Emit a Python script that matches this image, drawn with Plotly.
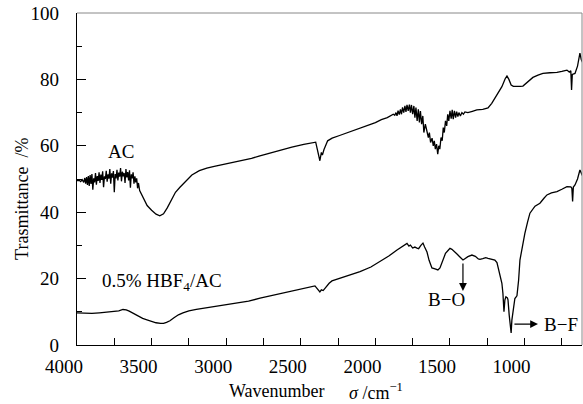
import plotly.graph_objects as go

# ---- data: AC spectrum (wavenumber, transmittance %) ----
ac_w = [4000, 3985, 3975, 3965, 3955, 3948, 3942, 3936, 3930, 3924, 3918, 3912, 3906, 3900, 3894,
        3888, 3882, 3876, 3870, 3864, 3858, 3852, 3846, 3840, 3834, 3828, 3822, 3816, 3810, 3804,
        3798, 3792, 3786, 3780, 3774, 3768, 3762, 3756, 3750, 3744, 3738, 3732, 3726, 3720, 3714,
        3708, 3702, 3696, 3690, 3684, 3678, 3672, 3666, 3660, 3654, 3648, 3642, 3636, 3630, 3624,
        3618, 3612, 3606, 3600, 3594, 3588, 3580, 3570, 3555, 3530, 3500, 3470, 3445, 3420, 3395,
        3370, 3340, 3310, 3270, 3230, 3180, 3130, 3080, 3030, 2980, 2930, 2880, 2830, 2780, 2700,
        2640, 2560, 2480, 2400, 2372, 2362, 2355, 2345, 2320, 2290, 2240, 2190, 2120, 2060, 2000,
        1960, 1920, 1880, 1870, 1862, 1855, 1848, 1840, 1832, 1825, 1818, 1810, 1802, 1795, 1788,
        1780, 1772, 1765, 1758, 1750, 1742, 1735, 1728, 1720, 1712, 1705, 1698, 1690, 1682, 1675,
        1665, 1655, 1645, 1638, 1630, 1620, 1612, 1605, 1598, 1590, 1582, 1575, 1568, 1560, 1552,
        1545, 1538, 1530, 1522, 1515, 1508, 1500, 1492, 1485, 1478, 1470, 1462, 1455, 1447, 1440,
        1430, 1420, 1410, 1400, 1380, 1350, 1320, 1280, 1245, 1220, 1199, 1175, 1152, 1130, 1118,
        1105, 1090, 1075, 1051, 1030, 1011, 980, 944, 910, 877, 830, 783, 750, 716, 700,
        690, 685, 680, 662, 645, 629, 620, 609]
ac_t = [49.5, 49.6, 49.2, 49.8, 49.0, 50.3, 48.6, 50.6, 48.2, 50.9, 47.9, 51.2, 48.5, 51.5, 46.8,
        50.2, 49.0, 51.8, 48.3, 50.9, 49.4, 52.0, 48.8, 51.3, 49.7, 52.3, 47.5, 50.8, 50.0, 52.5,
        49.2, 51.4, 50.1, 53.0, 48.6, 51.7, 50.4, 52.4, 46.0, 51.5, 50.2, 52.8, 49.6, 51.9, 50.7,
        53.3, 49.3, 52.2, 50.8, 51.8, 48.8, 53.0, 50.5, 52.1, 49.6, 52.6, 47.4, 51.4, 50.2, 52.0,
        48.6, 50.8, 49.0, 50.2, 47.2, 48.8, 46.5, 45.6, 44.0, 42.0, 40.6, 39.4, 38.9, 39.5, 41.3,
        43.6, 46.0, 47.5, 49.5, 51.2, 52.5, 53.3, 53.8, 54.3, 54.8, 55.1, 55.6, 56.2, 56.9, 57.9,
        58.7, 59.6, 60.4, 61.1, 55.5, 58.0, 57.2, 58.8, 61.5, 62.3, 63.1, 63.9, 65.0, 66.0, 67.0,
        67.9, 68.5, 69.5, 69.2, 70.0, 69.0, 70.6, 69.4, 71.0, 69.5, 71.6, 70.0, 72.0, 70.2, 72.3,
        70.5, 72.4, 70.0, 72.3, 69.5, 72.0, 68.5, 71.5, 67.5, 71.0, 67.0, 70.5, 66.5, 69.0, 64.0,
        66.5, 64.0, 62.5, 64.0, 61.0, 62.3, 60.0, 61.5, 59.0, 60.5, 57.5, 60.0, 59.0, 62.5, 61.5,
        65.5, 64.0, 67.5, 66.0, 69.5, 67.5, 70.5, 68.2, 70.8, 68.0, 70.5, 68.5, 70.3, 68.8, 70.0,
        69.0, 70.0, 69.5, 70.2, 70.0, 70.4, 70.8, 71.0, 71.4, 72.8, 74.4, 76.0, 77.8, 80.2, 81.0,
        80.0, 78.3, 77.9, 77.8, 77.9, 78.0, 79.2, 80.6, 81.3, 81.8, 82.0, 82.1, 82.4, 82.8, 82.2,
        82.6, 76.8, 81.5, 81.8, 84.0, 87.9, 86.0, 84.9]

# ---- data: 0.5% HBF4/AC spectrum ----
hb_w = [4000, 3950, 3900, 3850, 3800, 3750, 3720, 3692, 3670, 3650, 3620, 3590, 3560, 3531, 3500,
        3470, 3440, 3420, 3400, 3377, 3350, 3320, 3290, 3250, 3200, 3155, 3100, 3050, 2975, 2900,
        2850, 2773, 2707, 2600, 2500, 2405, 2372, 2362, 2350, 2338, 2310, 2291, 2200, 2103, 2030,
        1969, 1910, 1855, 1820, 1800, 1788, 1775, 1765, 1750, 1735, 1721, 1710, 1695, 1681, 1670,
        1654, 1640, 1621, 1600, 1581, 1567, 1555, 1547, 1530, 1510, 1500, 1487, 1470, 1453, 1435,
        1413, 1400, 1380, 1353, 1330, 1310, 1299, 1280, 1260, 1245, 1215, 1199, 1185, 1178, 1165,
        1152, 1145, 1138, 1132, 1125, 1115, 1111, 1103, 1095, 1090, 1085, 1078, 1065, 1051, 1040,
        1031, 1015, 998, 980, 964, 930, 897, 870, 850, 820, 783, 750, 716, 690, 683,
        678, 673, 662, 645, 629, 618, 609]
hb_t = [9.7, 9.6, 9.5, 9.7, 9.9, 10.1, 10.3, 10.7, 10.6, 10.2, 9.4, 8.6, 8.0, 7.6, 7.1,
        6.7, 6.5, 6.5, 6.8, 7.3, 8.2, 9.1, 9.7, 10.3, 10.7, 11.0, 11.5, 11.8, 12.3, 12.8,
        13.2, 14.1, 14.8, 15.8, 16.8, 17.8, 16.0, 16.6, 16.4, 17.1, 18.6, 19.3, 20.6, 22.1, 23.5,
        25.1, 26.8, 28.6, 29.6, 30.3, 30.6, 29.8, 30.1, 29.2, 29.5, 29.2, 29.0, 30.0, 30.7, 29.5,
        28.0, 25.5, 23.2, 22.9, 22.6, 23.2, 24.8, 25.8, 27.6, 28.6, 29.1, 28.8, 28.2, 27.4, 26.6,
        25.6, 26.0, 26.6, 27.1, 26.7, 25.9, 25.8, 26.0, 26.3, 26.1, 25.8, 25.6, 24.8, 23.6, 21.5,
        18.6, 15.5, 10.0, 13.5, 14.5, 14.2, 13.6, 9.0, 3.8, 3.6, 7.5, 9.5, 14.0, 14.8, 19.5,
        25.6, 30.0, 33.6, 37.0, 39.7, 41.8, 42.7, 44.2, 45.2, 45.8, 46.2, 46.9, 47.7, 47.6, 47.2,
        43.2, 47.6, 48.2, 50.0, 52.7, 51.5, 50.7]

x_tickvals = [4000, 3500, 3000, 2500, 2000, 1500, 1000]
x_minorvals = [3750, 3250, 2750, 2250, 1750, 1250, 750]
y_tickvals = [0, 20, 40, 60, 80, 100]

FONT = "Liberation Serif"
FS = 19
TFS = 18

fig = go.Figure()
fig.add_trace(go.Scatter(x=ac_w, y=ac_t, mode="lines",
                         line=dict(color="black", width=1.3), showlegend=False))
fig.add_trace(go.Scatter(x=hb_w, y=hb_t, mode="lines",
                         line=dict(color="black", width=1.3), showlegend=False))

fig.update_layout(
    width=583, height=404,
    margin=dict(l=77, r=1, t=13, b=59),
    paper_bgcolor="white", plot_bgcolor="white",
    font=dict(family=FONT, size=FS, color="black"),
    xaxis=dict(range=[4000, 615], showgrid=False, zeroline=False,
               showline=True, linecolor="black", linewidth=1.2,
               ticks="inside", ticklen=7, tickwidth=1, tickcolor="black",
               tickvals=x_tickvals,
               minor=dict(ticks="inside", ticklen=7, tickwidth=1, tickcolor="black",
                          tickvals=x_minorvals),
               ticklabelshift=13, ticklabelstandoff=4,
               tickfont=dict(family=FONT, size=FS)),
    yaxis=dict(range=[0, 100], showgrid=False, zeroline=False,
               showline=True, linecolor="black", linewidth=1.2,
               ticks="inside", ticklen=9, tickwidth=1, tickcolor="black",
               tickvals=y_tickvals, ticklabelstandoff=13,
               minor=dict(ticks="inside", ticklen=5, tickwidth=1, tickcolor="black", dtick=10),
               tickfont=dict(family=FONT, size=FS)),
    shapes=[
        dict(type="line", xref="paper", yref="paper", x0=0, x1=1, y0=1, y1=1,
             line=dict(color="#888888", width=1)),
        dict(type="line", xref="paper", yref="paper", x0=1, x1=1, y0=0, y1=1,
             line=dict(color="#888888", width=1)),
    ],
)

anns = [
    dict(x=3705, y=58.4, text="AC", showarrow=False, xanchor="center", yanchor="middle"),
    dict(x=3846, y=19.0, text="0.5% HBF<sub>4</sub>/AC", showarrow=False,
         xanchor="left", yanchor="middle"),
    dict(x=1520, y=13.6, text="B\u2212O", showarrow=False, xanchor="center", yanchor="middle"),
    dict(x=756, y=6.3, text="B\u2212F", showarrow=False, xanchor="center", yanchor="middle"),
    dict(x=1413, y=16.3, ax=1413, ay=25.0, axref="x", ayref="y", text="", showarrow=True,
         arrowhead=2, arrowsize=1.3, arrowwidth=1.2, arrowcolor="black"),
    dict(x=910, y=6.3, ax=1078, ay=6.3, axref="x", ayref="y", text="", showarrow=True,
         arrowhead=2, arrowsize=1.3, arrowwidth=1.2, arrowcolor="black"),
    dict(xref="paper", yref="paper", x=-0.109, y=0.44, text="Trasmittance  /%",
         textangle=-90, showarrow=False, xanchor="center", yanchor="middle",
         font=dict(family=FONT, size=TFS)),
    dict(xref="paper", yref="paper", x=0.495, y=-0.1386, text="Wavenumber",
         showarrow=False, xanchor="right", yanchor="middle",
         font=dict(family=FONT, size=TFS)),
    dict(xref="paper", yref="paper", x=0.535, y=-0.1386,
         text="<i>\u03c3</i> /cm<sup>\u22121</sup>",
         showarrow=False, xanchor="left", yanchor="middle",
         font=dict(family=FONT, size=TFS)),
]
fig.update_layout(annotations=anns)

fig.write_html("out.html")
